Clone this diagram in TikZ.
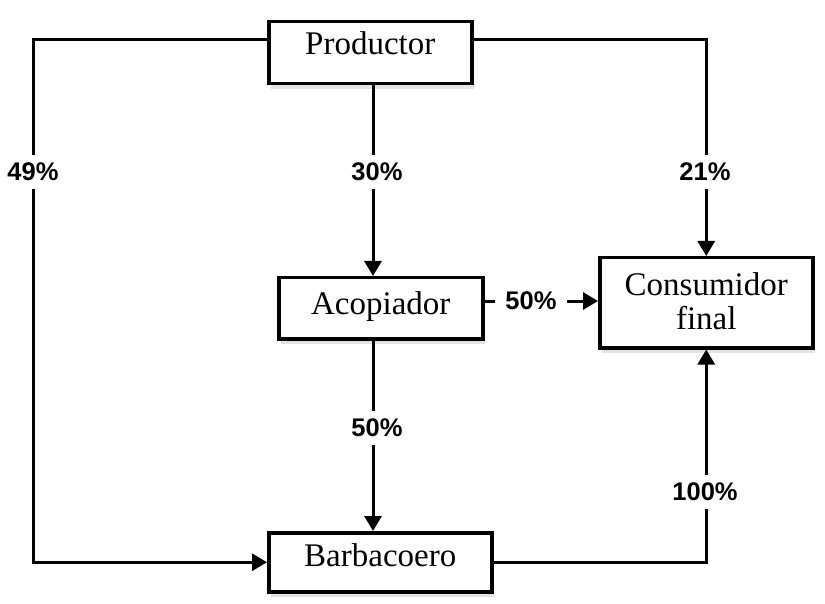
\documentclass[tikz,border=0pt]{standalone}
\usepackage{fontspec}
\setmainfont{Liberation Serif}
\newfontfamily\lblfont{Liberation Sans}
\usetikzlibrary{arrows.meta,shadows}
\begin{document}
\begin{tikzpicture}[x=1pt,y=-1pt,
  box/.style={draw=black, line width=3.5pt, fill=white, inner sep=0pt,
    font=\fontsize{33}{35}\selectfont, anchor=north west,
    drop shadow={shadow xshift=2pt, shadow yshift=-5pt, fill=black!18, opacity=0.6}},
  conn/.style={draw=black, line width=3pt, line join=miter},
  arr/.style={conn, -{Triangle[length=15pt,width=17pt]}},
  pct/.style={fill=white, inner sep=8pt, font=\lblfont\bfseries\fontsize{25.5}{28}\selectfont}
]
\useasboundingbox (0,0) rectangle (825,604);
\fill[white] (0,0) rectangle (825,604);

% boxes
\node[box, minimum width=203pt, text height=33pt, text depth=29pt] (prod) at (267,20) {Productor};
\node[box, minimum width=204pt, text height=37pt, text depth=24pt] (acop) at (277,276) {Acopiador};
\node[box, minimum width=213pt, minimum height=90pt, align=center] (cons) at (598,256) {\raisebox{3pt}{Consumidor}\\[-1pt]\raisebox{3pt}{final}};
\node[box, minimum width=223pt, text height=34pt, text depth=25pt] (barb) at (267,531) {Barbacoero};

% helper coordinates
\coordinate (l1) at (33,40);
\coordinate (m) at (373,0);
\coordinate (h) at (0,301);

% connectors
\draw[arr] (prod.west |- l1) -- (l1) -- (l1 |- barb.west) -- (barb.west);
\draw[arr] (prod.east |- l1) -| (cons.north);
\draw[arr] (prod.south -| m) -- (acop.north -| m);
\draw[arr] (acop.south -| m) -- (barb.north -| m);
\draw[arr] (acop.east |- h) -- (cons.west |- h);
\draw[arr] (barb.east) -| (cons.south);

% labels
\node[pct] (p49) at (33,172) {49\%};
\node[pct] (p30) at (377,172) {30\%};
\node[pct] (p21) at (705,172) {21\%};
\node[pct, inner xsep=10pt] (p50a) at (531,301) {50\%};
\node[pct] (p50b) at (377,428) {50\%};
\node[pct] (p100) at (705,492) {100\%};
\end{tikzpicture}
\end{document}
